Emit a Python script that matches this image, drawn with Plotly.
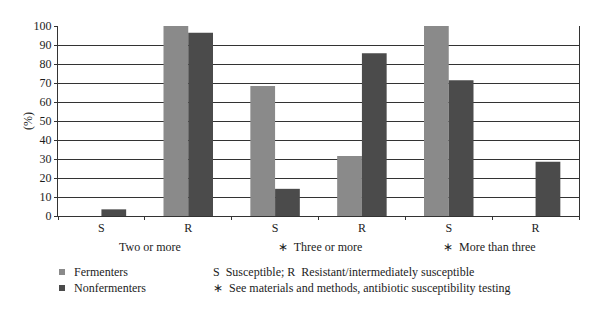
import plotly.graph_objects as go

# Resistance outcome per antibiotic-count group
groups = ["Two or more", "\u2217\u00a0 Three or more", "\u2217\u00a0 More than three"]
categories = ["S", "R", "S", "R", "S", "R"]
fermenters = [0, 100, 68.4, 31.6, 100, 0]
nonfermenters = [3.5, 96.5, 14.3, 85.7, 71.4, 28.6]
y_ticks = [0, 10, 20, 30, 40, 50, 60, 70, 80, 90, 100]

FERM_COLOR = "#8a8a8a"
NONFERM_COLOR = "#4b4b4b"
FONT = "Liberation Serif"
TEXT_COLOR = "#1c1c1c"

W, H = 600, 323
L, R, T, B = 58, 21, 26, 107
pw, ph = W - L - R, H - T - B


def px(xp):
    return (xp - L) / pw


def py(yp):
    return (H - B - yp) / ph


positions = list(range(len(categories)))

fig = go.Figure()
fig.add_trace(go.Bar(x=positions, y=fermenters, name="Fermenters",
                     marker=dict(color=FERM_COLOR, line=dict(width=0))))
fig.add_trace(go.Bar(x=positions, y=nonfermenters, name="Nonfermenters",
                     marker=dict(color=NONFERM_COLOR, line=dict(width=0))))

fig.update_layout(
    width=W, height=H,
    margin=dict(l=L, r=R, t=T, b=B),
    paper_bgcolor="white", plot_bgcolor="white",
    barmode="group", bargap=0.43, bargroupgap=0,
    showlegend=False,
    font=dict(family=FONT, size=12, color=TEXT_COLOR),
)

fig.update_xaxes(
    range=[-0.5, len(categories) - 0.5],
    tickvals=positions, ticktext=categories,
    ticks="", showgrid=False, zeroline=False,
    showline=True, linecolor="#333333", linewidth=1.3,
    minor=dict(tick0=0.5, dtick=1, ticks="outside", ticklen=3,
               tickcolor="#333333", showgrid=False),
    tickfont=dict(family=FONT, size=12, color=TEXT_COLOR),
)
fig.update_yaxes(
    range=[0, 100], tickvals=y_ticks,
    ticks="outside", ticklen=3, tickcolor="#333333",
    showgrid=True, gridcolor="#333333", gridwidth=1.1,
    zeroline=False,
    showline=True, linecolor="#333333", linewidth=1.3, mirror=True,
    tickfont=dict(family=FONT, size=12, color=TEXT_COLOR),
)

annotations = []
# Y-axis caption
annotations.append(dict(text="(%)", x=px(28), y=py(121), xref="paper", yref="paper",
                        showarrow=False, textangle=-90, xanchor="center", yanchor="middle",
                        font=dict(family=FONT, size=12, color=TEXT_COLOR)))

# Group captions under each pair of categories
group_x = [150, 320, 489]
for name, gx in zip(groups, group_x):
    annotations.append(dict(text=name, x=px(gx), y=py(247), xref="paper", yref="paper",
                            showarrow=False, xanchor="center", yanchor="middle",
                            font=dict(family=FONT, size=12, color=TEXT_COLOR)))

# Key: series swatches and notes
key_rows = [272, 288]
series = [("Fermenters", FERM_COLOR), ("Nonfermenters", NONFERM_COLOR)]
notes = ["S\u00a0 Susceptible; R\u00a0 Resistant/intermediately susceptible",
         "\u2217\u00a0 See materials and methods, antibiotic susceptibility testing"]
shapes = []
for (label, color), note, ry in zip(series, notes, key_rows):
    shapes.append(dict(type="rect", xref="paper", yref="paper",
                       x0=px(59), x1=px(65), y0=py(ry + 3), y1=py(ry - 3),
                       fillcolor=color, line=dict(width=0)))
    annotations.append(dict(text=label, x=px(72), y=py(ry), xref="paper", yref="paper",
                            showarrow=False, xanchor="left", yanchor="middle",
                            font=dict(family=FONT, size=12, color=TEXT_COLOR)))
    annotations.append(dict(text=note, x=px(211), y=py(ry), xref="paper", yref="paper",
                            showarrow=False, xanchor="left", yanchor="middle",
                            font=dict(family=FONT, size=12, color=TEXT_COLOR)))

fig.update_layout(annotations=annotations, shapes=shapes)

fig.write_html("out.html")
